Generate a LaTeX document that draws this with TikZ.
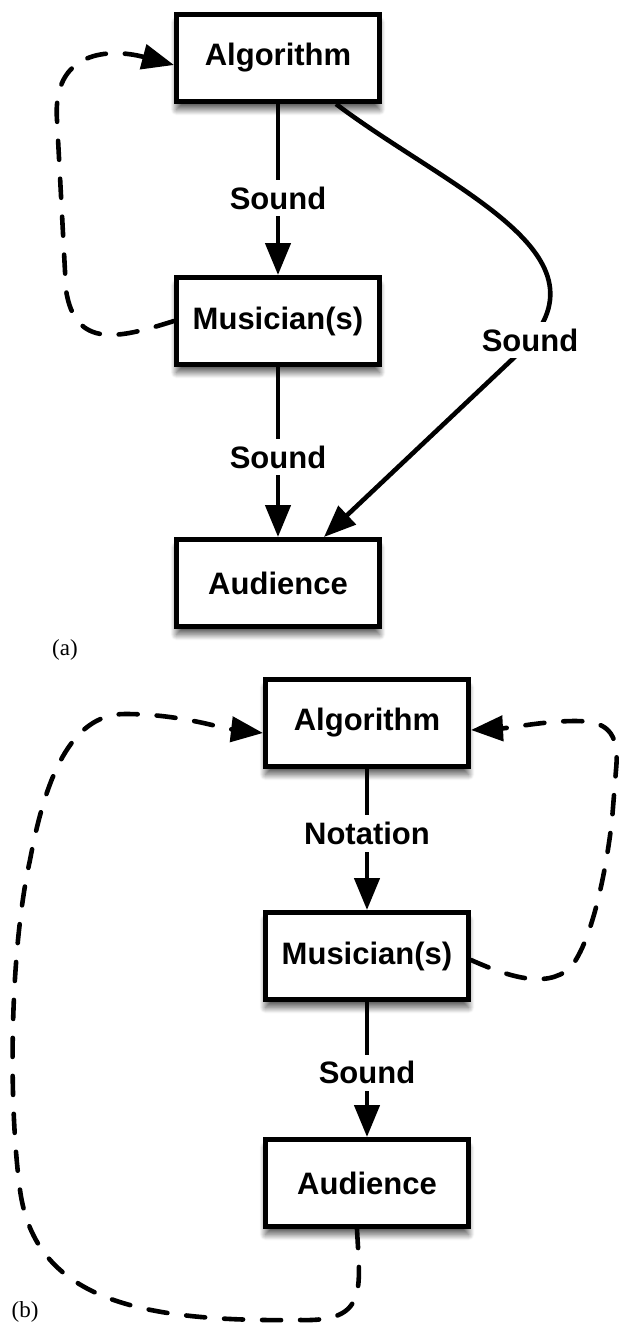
\documentclass[tikz,border=0pt]{standalone}
\usepackage{fontspec}
\setmainfont{Liberation Sans}
\newfontfamily\serifcap{Liberation Serif}
\usetikzlibrary{arrows.meta,shadows.blur}

\begin{document}
\begin{tikzpicture}[x=1pt,y=-1pt,
  box/.style={draw=black, line width=5pt, fill=white, minimum width=203pt, minimum height=87pt, inner sep=0pt,
    font=\fontsize{31}{36}\selectfont\bfseries,
    blur shadow={shadow xshift=0pt, shadow yshift=-8pt, shadow blur radius=6pt, shadow blur steps=12, shadow opacity=65}},
  conn/.style={line width=4.6pt, -{Triangle[length=32pt,width=25pt]}},
  dconn/.style={conn, line cap=round, dash pattern=on 19pt off 19pt},
  lbl/.style={fill=white, inner xsep=3pt, inner ysep=7pt, font=\fontsize{31}{36}\selectfont\bfseries},
  tag/.style={font=\serifcap\fontsize{23}{26}\selectfont}
]
\useasboundingbox (0,0) rectangle (619,1325);

% (a)
\node[box] (a1) at (278,58) {Algorithm};
\node[box] (a2) at (278,321) {Musician(s)};
\node[box] (a3) at (278,583) {Audience};
\draw[conn] (a1) -- node[lbl,pos=0.55]{Sound} (a2);
\draw[conn] (a2) -- node[lbl,pos=0.53]{Sound} (a3);
\draw[conn] ([xshift=-46pt]a1.south east) .. controls (450,190) and (620,255) .. (520,352) -- ([xshift=46pt]a3.north);
\node[lbl] (s3) at (530,340) {Sound};
\draw[dconn] (a2.west) .. controls (120,338) and (75,350) .. (66,290) -- (57,120) .. controls (52,50) and (110,48) .. ([yshift=-7pt]a1.west);
\node[tag] (ta) at (65,650) {(a)};

% (b)
\node[box] (b1) at (367,723) {Algorithm};
\node[box] (b2) at (367,956) {Musician(s)};
\node[box] (b3) at (367,1183) {Audience};
\draw[conn] (b1) -- node[lbl,pos=0.455]{Notation} (b2);
\draw[conn] (b2) -- node[lbl,pos=0.525]{Sound} (b3);
\draw[dconn] ([xshift=-10pt]b3.south) .. controls (360,1290) and (368,1322) .. (300,1320) .. controls (140,1322) and (35,1300) .. (20,1190) .. controls (8,1100) and (10,950) .. (30,860) .. controls (45,780) and (70,714) .. (125,714) .. controls (180,714) and (220,728) .. ([yshift=-10pt]b1.west);
\draw[dconn] ([yshift=-4pt]b2.east) .. controls (505,975) and (545,990) .. (570,968) .. controls (590,945) and (605,880) .. (612,820) -- (616,770) .. controls (620,730) and (605,721) .. (575,721) .. controls (545,721) and (510,728) .. ([yshift=-7pt]b1.east);
\node[tag] (tb) at (25,1312) {(b)};
\end{tikzpicture}
\end{document}
